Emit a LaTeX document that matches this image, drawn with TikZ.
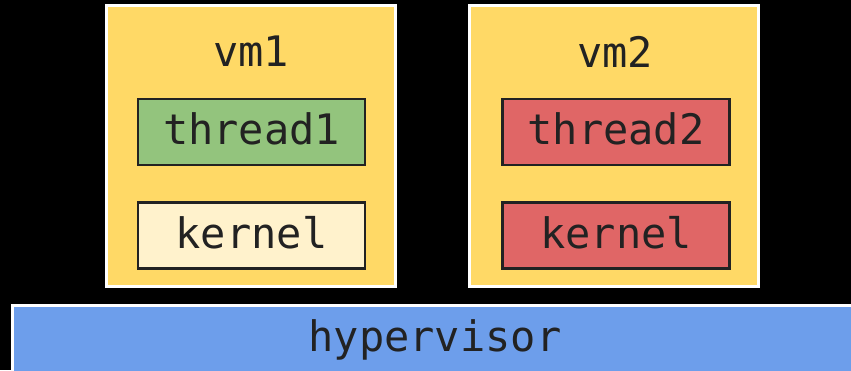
\documentclass[tikz,border=0pt]{standalone}
\usepackage{fontspec}
\setmonofont{DejaVu Sans Mono}
\usetikzlibrary{positioning}
\definecolor{vmyellow}{HTML}{FFD966}
\definecolor{okgreen}{HTML}{93C47D}
\definecolor{paleyellow}{HTML}{FFF2CC}
\definecolor{badred}{HTML}{E06666}
\definecolor{hvblue}{HTML}{6D9EEB}
\definecolor{ink}{HTML}{222222}
\tikzset{
    vmbox/.style={
           rectangle,
           draw=white,
           fill=vmyellow,
           line width=3pt,
           minimum width=289pt,
           minimum height=281pt,
           outer sep=0pt,
           },
    unitbox/.style={
           rectangle,
           draw=ink,
           line width=2.5pt,
           minimum width=227pt,
           minimum height=66pt,
           inner sep=0pt,
           outer sep=0pt,
           text depth=7pt,
           text=ink,
           font=\ttfamily\fontsize{42}{50}\selectfont,
           },
    vmlabel/.style={
           inner sep=0pt,
           text=ink,
           font=\ttfamily\fontsize{42}{50}\selectfont,
           },
}

\begin{document}
\begin{tikzpicture}[x=1pt,y=1pt]
 \useasboundingbox (0,0) rectangle (851,370);
 \fill[black] (0,0) rectangle (851,370);

 % the two guests
 \node[vmbox] (VM1) at (251,224) {};
 \node[vmbox, right=74pt of VM1] (VM2) {};

 \node[vmlabel] (VM1LABEL) at (251,318.5) {vm1};
 \node[vmlabel] (VM2LABEL) at (615,318.5) {vm2};

 \node[unitbox, fill=okgreen] (THREAD1) at (251.5,238) {thread1};
 \node[unitbox, fill=paleyellow, below=37.5pt of THREAD1] (KERNEL1) {kernel};

 \node[unitbox, fill=badred] (THREAD2) at (616,238) {thread2};
 \node[unitbox, fill=badred, below=37.5pt of THREAD2] (KERNEL2) {kernel};

 % runs off the right and bottom edge
 \node[rectangle,
 draw=white,
 fill=hvblue,
 line width=3pt,
 minimum width=845pt,
 minimum height=70pt,
 inner sep=0pt,
 text=ink,
 font=\ttfamily\fontsize{42}{50}\selectfont,
 ] (HV) at (435,30) {hypervisor};
\end{tikzpicture}
\end{document}
